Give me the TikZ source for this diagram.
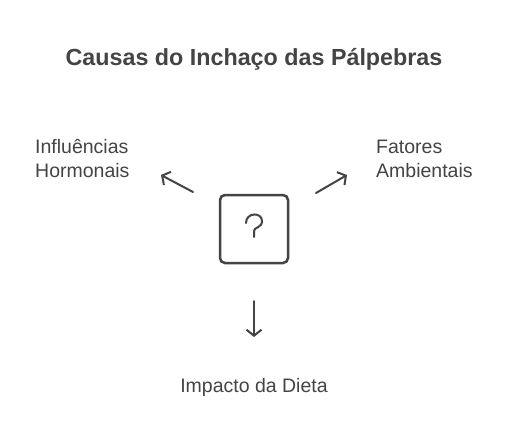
\documentclass[tikz,border=0pt]{standalone}
\usepackage{fontspec}
\setmainfont{Liberation Sans}
\usetikzlibrary{arrows.meta}
\definecolor{inkgray}{HTML}{444444}

\begin{document}
\begin{tikzpicture}[x=1pt,y=-1pt,
  every node/.style={text=inkgray},
  titletext/.style={font=\fontsize{23.3}{28}\selectfont\bfseries},
  labeltext/.style={font=\fontsize{19.5}{24}\selectfont, align=left, inner sep=0pt},
  causebox/.style={draw=inkgray, line width=2.5pt, rounded corners=5pt, minimum size=68pt, inner sep=0pt},
  pointer/.style={draw=inkgray, line width=2pt, line cap=round, -{Straight Barb[length=6pt,width=15pt,line width=2pt]}}]

\fill[white] (0,0) rectangle (508,436);
\useasboundingbox (0,0) rectangle (508,436);

\node[titletext, anchor=base] (title) at (254,65) {Causas do Inchaço das Pálpebras};

% central box with question mark
\node[causebox] (cause) at (254,229) {};
\draw[inkgray, line width=2pt, line cap=round]
  (246,223) .. controls (246,212) and (262,212) .. (262,221)
  .. controls (262,228) and (254,227) .. (254,231) -- (254,237);

% labels
\node[labeltext, anchor=base west] (hormones) at (35,177) {Influências\\Hormonais};
\node[labeltext, anchor=base west] (environment) at (376,177) {Fatores\\Ambientais};
\node[labeltext, anchor=base] (diet) at (254,392) {Impacto da Dieta};

% arrows
\coordinate (hormones end) at (161,175);
\coordinate (hormones start) at (193,192);
\coordinate (environment end) at (347,175);
\coordinate (environment start) at (316,193);
\coordinate (diet start) at (254,301);
\coordinate (diet end) at (254,337);

\draw[pointer] (hormones start) -- (hormones end);
\draw[pointer] (environment start) -- (environment end);
\draw[pointer] (diet start) -- (diet end);

\end{tikzpicture}
\end{document}
